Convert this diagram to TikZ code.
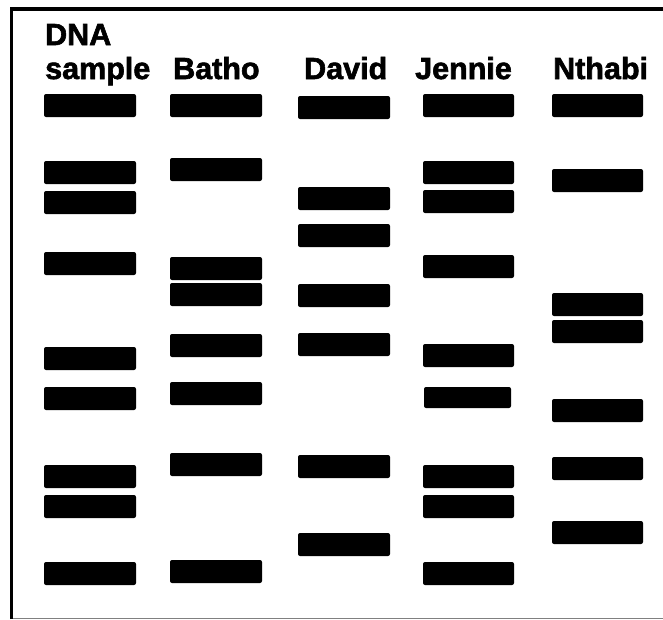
\documentclass[tikz,border=0pt]{standalone}
\usepackage{fontspec}
\newfontfamily\lanefont{Liberation Sans Bold}
\newcommand\heavy[1]{\special{pdf:literal direct 2 Tr 0.6 w}#1\special{pdf:literal direct 0 Tr 0.4 w}}
\begin{document}
\begin{tikzpicture}[x=1pt,y=-1pt,
  lane/.style={anchor=base west,inner sep=0pt,font=\lanefont\fontsize{30.5}{32}\selectfont},
  band/.style={fill=black,rounded corners=2pt}]
\useasboundingbox (0,0) rectangle (663,619);
%frame
\draw[gray,line width=1pt] (11,618) -- (663,618);
\draw[black,line width=3.5pt] (11.5,619) -- (11.5,9) -- (663,9);
%bands
\foreach \y in {94,161,191,252,347,387,465,495,562}
  \fill[band] (44,\y) rectangle ++(92,23);
\foreach \y in {94,158,257,283,334,382,453,560}
  \fill[band] (170,\y) rectangle ++(92,23);
\foreach \y in {96,187,224,284,333,455,533}
  \fill[band] (298,\y) rectangle ++(92,23);
\foreach \y in {94,161,190,255,344,465,495,562}
  \fill[band] (423,\y) rectangle ++(91,23);
\fill[band] (424,387) rectangle ++(87,21);
\foreach \y in {94,169,293,320,399,457,521}
  \fill[band] (552,\y) rectangle ++(91,23);
%lane labels
\node[lane] (dna) at (45,45) {\heavy{DNA}};
\node[lane] (sample) at (45,79) {\heavy{sample}};
\node[lane] (batho) at (173,79) {\heavy{Batho}};
\node[lane] (david) at (304,79) {\heavy{David}};
\node[lane] (jennie) at (415,79) {\heavy{Jennie}};
\node[lane] (nthabi) at (553,79) {\heavy{Nthabi}};
\end{tikzpicture}
\end{document}
